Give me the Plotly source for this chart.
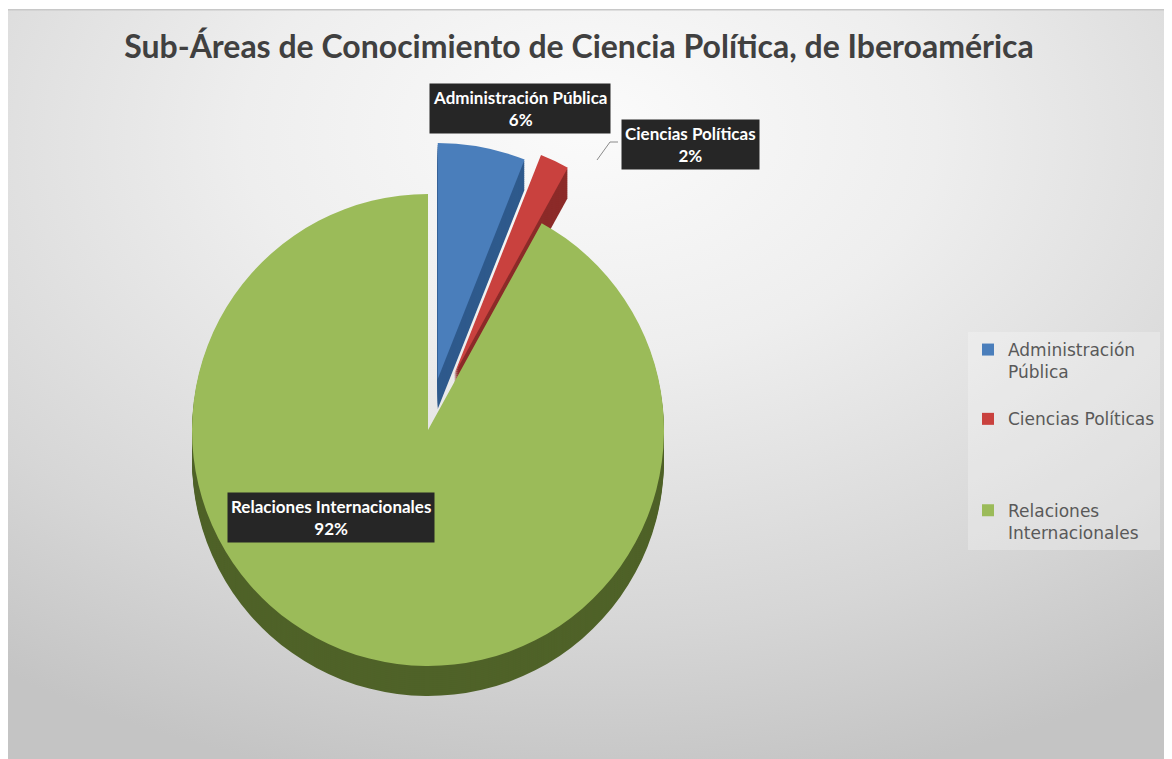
import base64
import plotly.graph_objects as go

# ---- data ----
categories = ["Administración Pública", "Ciencias Políticas", "Relaciones Internacionales"]
legend_labels = ["Administración<br>Pública<br>&nbsp;",
                 "Ciencias Políticas<br>&nbsp;<br>&nbsp;<br>&nbsp;",
                 "Relaciones<br>Internacionales"]
values = [6, 2, 92]
colors = ["#4a7ebb", "#c9413e", "#9bbb59"]
side_colors = ["#2f5a8c", "#8c2b29", "#4f6228"]
pulls = [0.22, 0.26, 0.0]
title_text = "Sub-Áreas de Conocimiento de Ciencia Política, de Iberoamérica"

# page has an 8px body margin: figure is sized to fit, coordinates given in page pixels
OFF = 8
W, H = 1164, 751


def px(x):
    return (x - OFF) / W


def py(y):
    return 1 - (y - OFF) / H


# background gradient as an SVG image
svg = """<svg xmlns='http://www.w3.org/2000/svg' width='1164' height='750' preserveAspectRatio='none'>
<defs><radialGradient id='g' cx='0.5' cy='0.2' r='0.85' fx='0.5' fy='0.15'>
<stop offset='0' stop-color='#fbfbfb'/>
<stop offset='0.35' stop-color='#eeeeee'/>
<stop offset='0.75' stop-color='#d6d6d6'/>
<stop offset='1' stop-color='#c4c4c4'/>
</radialGradient></defs>
<rect width='1164' height='750' fill='url(#g)'/>
<rect x='0' y='0' width='1164' height='1.5' fill='#c8c8c8'/>
</svg>"""
src = "data:image/svg+xml;base64," + base64.b64encode(svg.encode("utf-8")).decode("ascii")

# pie geometry (page pixels)
cx, cy, r, depth = 428, 430, 236, 30
half = r * (1 + max(pulls))


def dom(yshift):
    return dict(x=[px(cx - half), px(cx + half)],
                y=[py(cy + yshift + half), py(cy + yshift - half)])


fig = go.Figure()
# side (depth) layers
for k in range(depth, 0, -2):
    fig.add_trace(go.Pie(
        labels=categories, values=values, sort=False, direction="clockwise",
        rotation=0, pull=pulls, marker=dict(colors=side_colors, line=dict(width=0)),
        textinfo="none", hoverinfo="skip", showlegend=False, domain=dom(k),
    ))
# top face
fig.add_trace(go.Pie(
    labels=legend_labels, values=values, sort=False, direction="clockwise",
    rotation=0, pull=pulls, marker=dict(colors=colors, line=dict(width=0)),
    textinfo="none", hovertext=categories, hoverinfo="text+percent",
    showlegend=True, domain=dom(0),
))

ann_pos = [(520, 108), (690, 144), (331, 517)]
annotations = []
for name, v, (ax_, ay_) in zip(categories, values, ann_pos):
    annotations.append(dict(
        text=f"<b>{name}<br>{v}%</b>", xref="paper", yref="paper",
        x=px(ax_), y=py(ay_), xanchor="center", yanchor="middle", showarrow=False,
        font=dict(family="Lato, Open Sans, sans-serif", size=17, color="#ffffff"),
        bgcolor="#262626", borderpad=3, align="center",
    ))

for (x0, y0, x1, y1) in [(618, 142, 610, 142), (610, 142, 597, 160)]:
    fig.add_shape(type="line", xref="paper", yref="paper",
                  x0=px(x0), y0=py(y0), x1=px(x1), y1=py(y1),
                  line=dict(color="#8a8a8a", width=1))

fig.update_layout(
    width=W, height=H,
    margin=dict(l=0, r=0, t=0, b=0),
    paper_bgcolor="#ffffff",
    images=[dict(source=src, xref="paper", yref="paper", x=0, y=py(9),
                 sizex=1, sizey=py(9), sizing="stretch",
                 xanchor="left", yanchor="top", layer="below")],
    title=dict(text=f"<b>{title_text}</b>", x=px(579), xanchor="center",
               y=py(47), yanchor="middle",
               font=dict(family="Lato, Open Sans, sans-serif", size=32, color="#404040")),
    legend=dict(x=px(968), y=py(332), xanchor="left", yanchor="top",
                bgcolor="rgba(255,255,255,0.25)", valign="top",
                font=dict(family="DejaVu Sans, sans-serif", size=17, color="#595959"),
                itemwidth=30),
    annotations=annotations,
)

fig.write_html("out.html")
